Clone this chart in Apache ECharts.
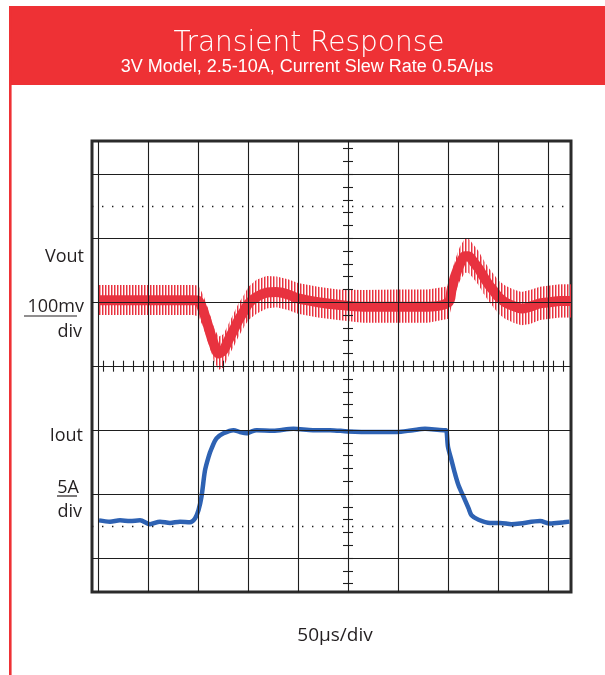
<!DOCTYPE html>
<html>
<head>
<meta charset="utf-8">
<script src="https://cdn.jsdelivr.net/npm/echarts@6/dist/echarts.min.js"></script>
<style>
  html, body { margin: 0; padding: 0; background: #fff; }
  #chart { width: 605px; height: 675px; }
</style>
</head>
<body>
<div id="chart"></div>
<script>
// scope units: x in divisions from screen centre (50us/div), y in divisions from centre
const redX = [-4.98, -4.0, -3.1, -2.99, -2.89, -2.79, -2.69, -2.59, -2.49, -2.39, -2.29, -2.19, -2.09, -1.99, -1.83, -1.63, -1.43, -1.2, -1.0, -0.6, -0.2, 0.3, 1.0, 1.6, 2.01, 2.07, 2.14, 2.24, 2.34, 2.41, 2.51, 2.61, 2.71, 2.81, 2.91, 3.01, 3.14, 3.31, 3.47, 3.64, 3.84, 4.04, 4.24, 4.46]
const redMid = [1.03, 1.03, 1.03, 1.02, 0.85, 0.61, 0.36, 0.2, 0.25, 0.41, 0.56, 0.72, 0.85, 0.98, 1.08, 1.15, 1.16, 1.12, 1.06, 1.0, 0.96, 0.93, 0.93, 0.93, 1.0, 1.19, 1.4, 1.6, 1.72, 1.72, 1.63, 1.53, 1.4, 1.28, 1.18, 1.08, 1.0, 0.94, 0.9, 0.93, 0.98, 1.0, 1.02, 1.02]
const redHi = [1.27, 1.27, 1.27, 1.26, 1.1, 0.88, 0.62, 0.46, 0.5, 0.66, 0.82, 0.98, 1.1, 1.24, 1.35, 1.41, 1.4, 1.36, 1.3, 1.24, 1.2, 1.19, 1.2, 1.2, 1.25, 1.45, 1.66, 1.87, 2.0, 2.0, 1.9, 1.8, 1.66, 1.54, 1.44, 1.34, 1.26, 1.2, 1.16, 1.19, 1.24, 1.26, 1.28, 1.28]
const redLo = [0.8, 0.8, 0.8, 0.78, 0.6, 0.36, 0.1, -0.06, -0.02, 0.16, 0.3, 0.46, 0.6, 0.72, 0.82, 0.9, 0.92, 0.88, 0.82, 0.76, 0.72, 0.68, 0.68, 0.68, 0.74, 0.93, 1.14, 1.34, 1.46, 1.46, 1.37, 1.27, 1.14, 1.02, 0.92, 0.82, 0.74, 0.68, 0.64, 0.66, 0.72, 0.74, 0.76, 0.76]

const blueX = [-4.98, -4.76, -4.56, -4.36, -4.16, -3.96, -3.76, -3.56, -3.36, -3.16, -3.06, -2.99, -2.93, -2.86, -2.79, -2.73, -2.63, -2.49, -2.29, -2.16, -2.03, -1.96, -1.83, -1.5, -1.09, -0.7, -0.36, 0.0, 0.5, 0.97, 1.3, 1.54, 1.91, 1.96, 2.0, 2.07, 2.14, 2.21, 2.31, 2.41, 2.47, 2.61, 2.84, 3.04, 3.27, 3.44, 3.84, 4.04, 4.31, 4.43]
const blueY = [-2.41, -2.43, -2.41, -2.42, -2.41, -2.47, -2.43, -2.45, -2.43, -2.44, -2.38, -2.25, -2.04, -1.63, -1.42, -1.29, -1.13, -1.05, -1.0, -1.03, -1.05, -1.03, -1.0, -1.01, -0.98, -1.0, -1.0, -1.02, -1.03, -1.03, -1.0, -0.98, -1.0, -1.0, -1.26, -1.47, -1.68, -1.86, -2.04, -2.22, -2.33, -2.4, -2.45, -2.45, -2.47, -2.46, -2.42, -2.46, -2.44, -2.43]

const gridXLines = [-5, -4, -3, -2, -1, 0, 1, 2, 3, 4]
const gridYLines = [-3, -2, -1, 0, 1, 2, 3]
const dottedYLines = [-2.5, 2.5]

const titleText = "Transient Response"
const subtitleText = "3V Model, 2.5-10A, Current Slew Rate 0.5A/\u00b5s"
const timebaseText = "50\u00b5s/div"
const voutLabels = ["Vout", "100mv", "div"]
const ioutLabels = ["Iout", "5A", "div"]

const RED = "#ee3135"
const TRACE_RED = "#e8323f"
const INK = "#231f20"
const GRID = "#1e1e1e"

// vertical hatch used for the ringing envelope of Vout
function hatch() {
  const c = document.createElement("canvas")
  c.width = 3
  c.height = 4
  const g = c.getContext("2d")
  g.fillStyle = "rgba(232,50,63,1)"
  g.fillRect(0, 0, 1, 4)
  g.fillStyle = "rgba(238,90,100,0.6)"
  g.fillRect(1, 0, 1, 4)
  return c
}
const hatchPattern = { image: hatch(), repeat: "repeat" }

const ticksX = []
for (let v = -49; v <= 44; v += 2) ticksX.push(v / 10)
const ticksY = []
for (let v = -17; v <= 17; v++) ticksY.push(v / 5)

const graticule = [
  ...gridXLines.map((v) => ({ xAxis: v })),
  ...gridYLines.map((v) => ({ yAxis: v })),
  ...dottedYLines.map((v) => ({
    yAxis: v,
    lineStyle: { type: [1.4, 8.6], width: 1.4, color: GRID },
  })),
  ...ticksX.map((v) => [{ coord: [v, -0.086] }, { coord: [v, 0.086] }]),
  ...ticksY.map((v) => [{ coord: [-0.1, v] }, { coord: [0.1, v] }]),
]

const chart = echarts.init(document.getElementById("chart"), null, { renderer: "canvas" })

function label(text, x, y, size, align, family, color, weight) {
  return {
    type: "text",
    x: x,
    y: y,
    silent: true,
    style: {
      text: text,
      fill: color || INK,
      font: (weight || "normal") + " " + size + "px " + (family || "'Open Sans', sans-serif"),
      align: align,
      textAlign: align,
      verticalAlign: "middle",
      textVerticalAlign: "middle",
    },
  }
}

// ringing envelope: one hatched quad between consecutive samples
function renderEnvelope(params, api) {
  const i = params.dataIndex
  if (i >= redX.length - 1) return null
  const a = api.coord([redX[i], redLo[i]])
  const b = api.coord([redX[i + 1], redLo[i + 1]])
  const c = api.coord([redX[i + 1], redHi[i + 1]])
  const d = api.coord([redX[i], redHi[i]])
  return {
    type: "polygon",
    shape: { points: [a, b, c, d] },
    style: { fill: hatchPattern },
  }
}

chart.setOption({
  animation: false,
  backgroundColor: "#fff",
  graphic: [
    { type: "rect", shape: { x: 9, y: 6, width: 596, height: 79 }, style: { fill: RED }, silent: true },
    { type: "rect", shape: { x: 9, y: 6, width: 2.6, height: 669 }, style: { fill: RED }, silent: true },
    label(titleText, 309, 44, 28, "center", "'DejaVu Sans', sans-serif", "#fff", 200),
    label(subtitleText, 307, 67, 18, "center", "'Liberation Sans', Arial, sans-serif", "#fff"),
    label(voutLabels[0], 84, 257, 18, "right"),
    label(voutLabels[1], 84, 307, 18, "right"),
    label(voutLabels[2], 82, 332, 18, "right"),
    label(ioutLabels[0], 83, 436, 18, "right"),
    label(ioutLabels[1], 79, 488, 18, "right"),
    label(ioutLabels[2], 82, 512, 18, "right"),
    { type: "line", shape: { x1: 24, y1: 316, x2: 77, y2: 316 }, style: { stroke: INK, lineWidth: 1.2 }, silent: true },
    { type: "line", shape: { x1: 57, y1: 496, x2: 77, y2: 496 }, style: { stroke: INK, lineWidth: 1.2 }, silent: true },
    label(timebaseText, 335, 636, 19, "center"),
  ],
  grid: {
    left: 92,
    top: 141,
    right: 34,
    bottom: 83,
    show: true,
    backgroundColor: "#fff",
    borderColor: "#2b2b2b",
    borderWidth: 3,
  },
  xAxis: { type: "value", min: -5.12, max: 4.46, show: false },
  yAxis: { type: "value", min: -3.53, max: 3.52, show: false },
  series: [
    {
      name: "graticule",
      type: "line",
      data: [[0, 0]],
      showSymbol: false,
      lineStyle: { opacity: 0 },
      silent: true,
      z: 1,
      markLine: {
        symbol: "none",
        silent: true,
        animation: false,
        label: { show: false },
        emphasis: { disabled: true },
        lineStyle: { color: GRID, width: 1.1, type: "solid" },
        data: graticule,
      },
    },
    {
      name: "Vout ringing",
      type: "custom",
      renderItem: renderEnvelope,
      data: redX.map((x, i) => [x, redLo[i], redHi[i]]),
      encode: { x: 0, y: [1, 2] },
      silent: true,
      z: 3,
    },
    {
      name: "Vout",
      type: "line",
      smooth: 0.3,
      showSymbol: false,
      lineStyle: { color: TRACE_RED, width: 10 },
      data: redX.map((x, i) => [x, redMid[i]]),
      z: 4,
    },
    {
      name: "Iout",
      type: "line",
      smooth: 0.3,
      showSymbol: false,
      lineStyle: { color: "#2e62b3", width: 4.5 },
      data: blueX.map((x, i) => [x, blueY[i]]),
      z: 4,
    },
  ],
})
</script>
</body>
</html>
